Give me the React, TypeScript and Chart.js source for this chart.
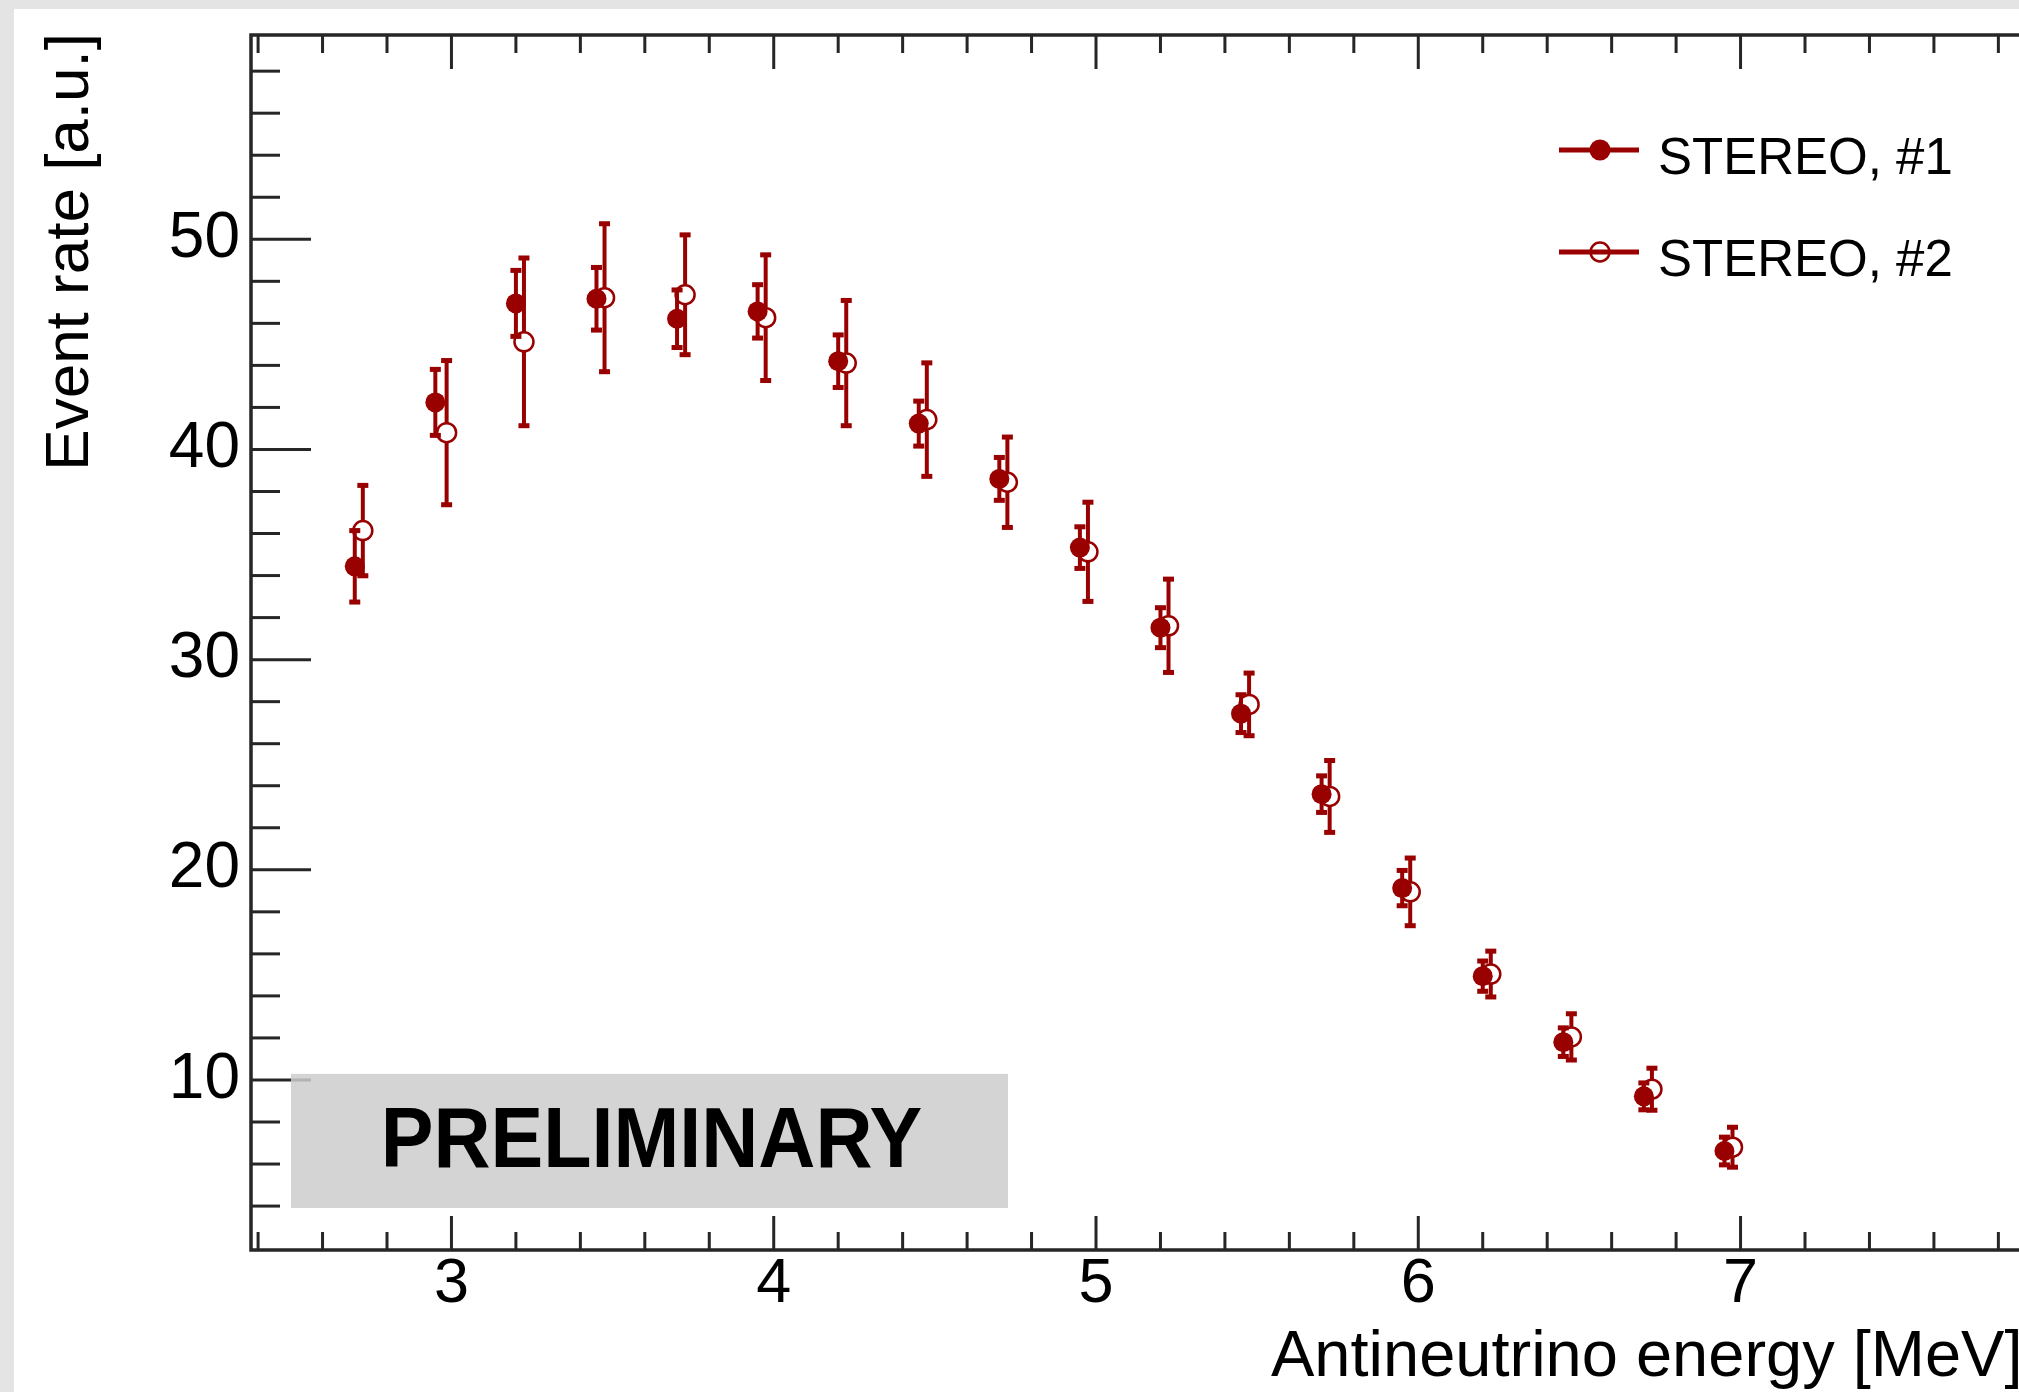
import React, { useEffect, useRef } from "react";
import { Chart, registerables } from "chart.js";

Chart.register(...registerables);

// ---------------- data ----------------
const S1_LABEL = "STEREO, #1";
const S2_LABEL = "STEREO, #2";

const S1_X = [2.70, 2.95, 3.20, 3.45, 3.70, 3.95, 4.20, 4.45, 4.70, 4.95, 5.20, 5.45, 5.70, 5.95, 6.20, 6.45, 6.70, 6.95];
const S1_Y = [34.44, 42.24, 46.95, 47.17, 46.22, 46.57, 44.2, 41.23, 38.6, 35.33, 31.52, 27.43, 23.6, 19.13, 14.94, 11.8, 9.22, 6.62];
const S1_ERR = [1.7, 1.57, 1.57, 1.49, 1.37, 1.27, 1.25, 1.07, 1.02, 0.99, 0.95, 0.9, 0.87, 0.84, 0.72, 0.68, 0.64, 0.66];

const S2_X = [2.725, 2.985, 3.225, 3.475, 3.725, 3.975, 4.225, 4.475, 4.725, 4.975, 5.225, 5.475, 5.725, 5.975, 6.225, 6.475, 6.725, 6.975];
const S2_Y = [36.14, 40.8, 45.12, 47.22, 47.36, 46.27, 44.11, 41.42, 38.44, 35.13, 31.61, 27.87, 23.49, 18.95, 15.04, 12.05, 9.56, 6.8];
const S2_ERR = [2.15, 3.43, 3.99, 3.52, 2.85, 2.99, 2.98, 2.7, 2.15, 2.36, 2.22, 1.49, 1.71, 1.61, 1.09, 1.1, 1.0, 0.95];

const X_TICKS = [3, 4, 5, 6, 7];
const Y_TICKS = [10, 20, 30, 40, 50];
const X_MINOR_STEP = 0.2;
const Y_MINOR_STEP = 2;
const X_RANGE = [2.378, 7.864];
const Y_RANGE = [1.91, 59.72];

const X_TITLE = "Antineutrino energy [MeV]";
const Y_TITLE = "Event rate [a.u.]";
const STAMP_TEXT = "PRELIMINARY";
const STAMP_X = [2.502, 4.727];
const STAMP_Y = [3.91, 10.29];

// ---------------- style ----------------
const RED = "#990000";
const AXIS = "#262626";
const FONT = '"Liberation Sans", Arial, Helvetica, sans-serif';

const rootPlugin = {
  id: "rootStyle",
  beforeDatasetsDraw(chart: any) {
    const { ctx, chartArea: a, scales } = chart;
    const xs = scales.x;
    const ys = scales.y;
    ctx.save();
    ctx.strokeStyle = AXIS;
    ctx.lineCap = "butt";
    // ticks
    ctx.lineWidth = 3;
    const nx = Math.round((X_RANGE[1] - 2.4) / X_MINOR_STEP);
    for (let k = 0; k <= nx; k++) {
      const v = 2.4 + k * X_MINOR_STEP;
      const px = xs.getPixelForValue(v);
      if (px < a.left + 2 || px > a.right) continue;
      const major = Math.abs(v - Math.round(v)) < 1e-6;
      const len = major ? 34 : 18;
      ctx.beginPath();
      ctx.moveTo(px, a.bottom);
      ctx.lineTo(px, a.bottom - len);
      ctx.moveTo(px, a.top);
      ctx.lineTo(px, a.top + len);
      ctx.stroke();
    }
    for (let v = Y_MINOR_STEP; v < Y_RANGE[1]; v += Y_MINOR_STEP) {
      const py = ys.getPixelForValue(v);
      if (py > a.bottom - 4 || py < a.top + 4) continue;
      const major = v % 10 === 0;
      const len = major ? 60 : 29;
      ctx.beginPath();
      ctx.moveTo(a.left, py);
      ctx.lineTo(a.left + len, py);
      ctx.stroke();
    }
    // frame
    ctx.lineWidth = 3.5;
    ctx.beginPath();
    ctx.moveTo(a.right + 5, a.top);
    ctx.lineTo(a.left, a.top);
    ctx.lineTo(a.left, a.bottom);
    ctx.lineTo(a.right + 5, a.bottom);
    ctx.stroke();
    ctx.restore();
  },
  beforeDatasetDraw(chart: any, args: any) {
    const { ctx, scales } = chart;
    const xs = scales.x;
    const ys = scales.y;
    const X = args.index === 0 ? S1_X : S2_X;
    const Y = args.index === 0 ? S1_Y : S2_Y;
    const E = args.index === 0 ? S1_ERR : S2_ERR;
    ctx.save();
    ctx.strokeStyle = RED;
    ctx.fillStyle = RED;
    ctx.lineWidth = 4;
    for (let i = 0; i < X.length; i++) {
      const px = xs.getPixelForValue(X[i]);
      const top = ys.getPixelForValue(Y[i] + E[i]);
      const bot = ys.getPixelForValue(Y[i] - E[i]);
      ctx.beginPath();
      ctx.moveTo(px, top);
      ctx.lineTo(px, bot);
      ctx.stroke();
      ctx.fillRect(px - 5.5, top - 2.5, 11, 5);
      ctx.fillRect(px - 5.5, bot - 2.5, 11, 5);
    }
    ctx.restore();
  },
  afterDraw(chart: any) {
    const { ctx, scales } = chart;
    const xs = scales.x;
    const ys = scales.y;
    ctx.save();
    // PRELIMINARY stamp
    const bx0 = xs.getPixelForValue(STAMP_X[0]);
    const bx1 = xs.getPixelForValue(STAMP_X[1]);
    const by0 = ys.getPixelForValue(STAMP_Y[1]);
    const by1 = ys.getPixelForValue(STAMP_Y[0]);
    ctx.fillStyle = "rgba(205,205,205,0.85)";
    ctx.fillRect(bx0, by0, bx1 - bx0, by1 - by0);
    ctx.save();
    ctx.translate((bx0 + bx1) / 2 + 2, by0 + 93);
    ctx.scale(0.93, 1);
    ctx.fillStyle = "#000";
    ctx.font = `bold 85px ${FONT}`;
    ctx.textAlign = "center";
    ctx.textBaseline = "alphabetic";
    ctx.fillText(STAMP_TEXT, 0, 0);
    ctx.restore();

    // legend
    const entries = [
      { label: S1_LABEL, y: 150, filled: true },
      { label: S2_LABEL, y: 252, filled: false },
    ];
    for (const e of entries) {
      ctx.strokeStyle = RED;
      ctx.lineWidth = 5;
      ctx.beginPath();
      ctx.moveTo(1559, e.y);
      ctx.lineTo(1639, e.y);
      ctx.stroke();
      ctx.beginPath();
      ctx.arc(1600, e.y, e.filled ? 10.5 : 9.5, 0, Math.PI * 2);
      if (e.filled) {
        ctx.fillStyle = RED;
        ctx.fill();
      } else {
        ctx.lineWidth = 2.5;
        ctx.stroke();
      }
      ctx.fillStyle = "#000";
      ctx.font = `51px ${FONT}`;
      ctx.textAlign = "left";
      ctx.textBaseline = "alphabetic";
      ctx.fillText(e.label, 1658, e.y + 24);
    }

    // axis titles
    ctx.fillStyle = "#000";
    ctx.font = `65px ${FONT}`;
    ctx.textAlign = "left";
    ctx.textBaseline = "alphabetic";
    ctx.fillText(X_TITLE, 1271, 1376);

    ctx.save();
    ctx.translate(88, 33);
    ctx.rotate(-Math.PI / 2);
    ctx.font = `62px ${FONT}`;
    ctx.textAlign = "right";
    ctx.fillText(Y_TITLE, 0, 0);
    ctx.restore();

    ctx.restore();
  },
};

export default function App() {
  const ref = useRef<HTMLCanvasElement>(null);

  useEffect(() => {
    const canvas = ref.current;
    if (!canvas) return;
    const chart = new Chart(canvas, {
      type: "scatter",
      data: {
        datasets: [
          {
            label: S1_LABEL,
            data: S1_X.map((x, i) => ({ x, y: S1_Y[i] })),
            showLine: false,
            pointRadius: 10,
            pointHoverRadius: 10,
            pointBackgroundColor: RED,
            pointBorderColor: RED,
            pointBorderWidth: 0,
          },
          {
            label: S2_LABEL,
            data: S2_X.map((x, i) => ({ x, y: S2_Y[i] })),
            showLine: false,
            pointRadius: 9.5,
            pointHoverRadius: 9.5,
            pointBackgroundColor: "#ffffff",
            pointBorderColor: RED,
            pointBorderWidth: 2.5,
          },
        ],
      },
      options: {
        responsive: false,
        animation: false,
        events: [],
        layout: { autoPadding: false, padding: { left: 0, top: 35, right: 0, bottom: 0 } },
        plugins: {
          legend: { display: false },
          tooltip: { enabled: false },
          title: { display: false },
        },
        scales: {
          x: {
            type: "linear",
            position: "bottom",
            min: X_RANGE[0],
            max: X_RANGE[1],
            grid: { display: false, drawTicks: false },
            border: { display: false },
            ticks: {
              color: "#000",
              font: { family: FONT, size: 63, lineHeight: 1 },
              padding: 3,
              maxRotation: 0,
              autoSkip: false,
              includeBounds: false,
              callback: (v: any) => String(v),
            },
            afterBuildTicks: (scale: any) => {
              scale.ticks = X_TICKS.map((v) => ({ value: v }));
            },
            afterFit: (scale: any) => {
              scale.height = 142;
              scale.paddingLeft = 0;
              scale.paddingRight = 0;
              scale.paddingTop = 0;
              scale.paddingBottom = 0;
            },
          },
          y: {
            type: "linear",
            position: "left",
            min: Y_RANGE[0],
            max: Y_RANGE[1],
            grid: { display: false, drawTicks: false },
            border: { display: false },
            ticks: {
              color: "#000",
              font: { family: FONT, size: 64, lineHeight: 1 },
              padding: 11,
              includeBounds: false,
              callback: (v: any) => String(v),
            },
            afterBuildTicks: (scale: any) => {
              scale.ticks = Y_TICKS.map((v) => ({ value: v }));
            },
            afterFit: (scale: any) => {
              scale.width = 251;
              scale.paddingLeft = 0;
              scale.paddingRight = 0;
              scale.paddingTop = 0;
              scale.paddingBottom = 0;
            },
          },
        },
      },
      plugins: [rootPlugin],
    } as any);
    return () => chart.destroy();
  }, []);

  return (
    <div
      style={{
        position: "fixed",
        left: 0,
        top: 0,
        width: 2019,
        height: 1392,
        background: "#e4e4e4",
        overflow: "hidden",
      }}
    >
      <div style={{ position: "absolute", left: 14, top: 9, right: 0, bottom: 0, background: "#ffffff" }} />
      <canvas
        ref={ref}
        width={2019}
        height={1392}
        style={{ position: "absolute", left: 0, top: 0, width: 2019, height: 1392 }}
      />
    </div>
  );
}
